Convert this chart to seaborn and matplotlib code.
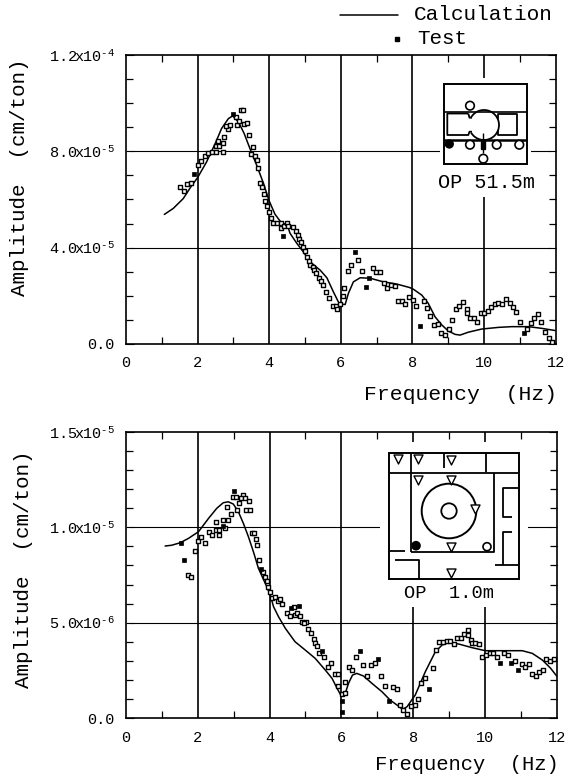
import matplotlib
matplotlib.use('Agg')
import matplotlib.pyplot as plt
from matplotlib.lines import Line2D
from matplotlib.patches import Arc, Circle, Rectangle
from matplotlib.ticker import MultipleLocator
import numpy as np
import seaborn as sns

# Top panel (OP 51.5m), amplitude in 1e-5 cm/ton
top_line_x = [1.07, 1.32, 1.60, 1.80, 2.00, 2.25, 2.49, 2.67, 2.86, 2.98, 3.14, 3.30, 3.46, 3.65, 3.84, 3.99,
              4.16, 4.30, 4.39, 4.49, 4.58, 4.77, 4.95, 5.14, 5.42, 5.61, 5.79, 5.96, 6.12, 6.21, 6.35, 6.54,
              6.82, 7.19, 7.56, 7.93, 8.03, 8.26, 8.44, 8.63, 8.82, 9.00, 9.19, 9.33, 9.56, 9.93, 10.40, 10.77,
              11.24, 11.61, 11.98]
top_line_y = [5.38, 5.63, 6.04, 6.50, 6.91, 7.56, 8.32, 8.95, 9.36, 9.47, 9.22, 8.74, 8.12, 7.42, 6.67, 5.97,
              5.39, 5.11, 4.98, 5.01, 4.60, 4.18, 3.83, 3.41, 3.07, 2.75, 2.17, 1.66, 1.64, 2.10, 2.58, 2.75,
              2.73, 2.58, 2.49, 2.34, 2.27, 2.03, 1.69, 1.13, 0.79, 0.54, 0.40, 0.37, 0.49, 0.62, 0.69, 0.72,
              0.72, 0.65, 0.56]
top_test_x = [1.51, 1.61, 1.71, 1.82, 2.00, 2.09, 2.20, 2.29, 2.39, 2.50, 2.70, 2.50, 2.60, 2.70, 2.56, 2.74,
              2.85, 2.80, 2.91, 3.06, 3.11, 3.16, 3.20, 3.27, 3.30, 3.39, 3.44, 3.54, 3.50, 3.60, 3.65, 3.69,
              3.74, 3.80, 3.84, 3.89, 3.94, 3.99, 4.05, 4.10, 4.21, 4.32, 4.34, 4.41, 4.51, 4.53, 4.65, 4.74,
              4.79, 4.84, 4.90, 4.94, 4.99, 5.06, 5.10, 5.14, 5.21, 5.25, 5.31, 5.40, 5.45, 5.49, 5.59, 5.68,
              5.78, 5.87, 5.89, 5.98, 6.07, 6.09, 6.19, 6.28, 6.49, 6.59, 6.90, 6.99, 7.09, 7.20, 7.30, 7.39,
              7.51, 7.60, 7.70, 7.80, 7.91, 8.01, 8.10, 8.31, 8.40, 8.50, 8.60, 8.71, 8.81, 8.91, 9.01, 9.11,
              9.21, 9.31, 9.41, 9.51, 9.52, 9.61, 9.71, 9.80, 9.91, 10.01, 10.10, 10.20, 10.31, 10.40, 10.50,
              10.61, 10.71, 10.81, 10.90, 11.01, 11.20, 11.30, 11.40, 11.50, 11.59, 11.70, 11.80, 11.89]
top_test_y = [6.50, 6.34, 6.65, 6.67, 7.45, 7.59, 7.82, 7.95, 7.96, 7.96, 7.98, 8.24, 8.24, 8.35, 8.44, 8.60,
              8.91, 9.05, 9.08, 9.43, 9.09, 9.26, 9.72, 9.72, 9.15, 9.18, 8.68, 8.18, 7.91, 7.82, 7.65, 7.30,
              6.68, 6.50, 6.21, 5.95, 5.75, 5.47, 5.23, 5.04, 5.01, 5.01, 4.80, 4.91, 5.04, 4.91, 4.84, 4.68,
              4.51, 4.36, 4.23, 4.04, 3.88, 3.63, 3.46, 3.30, 3.21, 3.07, 2.93, 2.75, 2.60, 2.43, 2.16, 1.90,
              1.59, 1.56, 1.46, 1.67, 2.00, 2.33, 3.03, 3.30, 3.47, 3.04, 3.16, 3.00, 2.97, 2.54, 2.31, 2.46,
              2.40, 1.79, 1.77, 1.67, 1.96, 1.81, 1.57, 1.77, 1.51, 1.15, 0.80, 0.83, 0.44, 0.39, 0.63, 1.00,
              1.44, 1.59, 1.74, 1.44, 1.27, 1.10, 1.10, 0.93, 1.27, 1.30, 1.38, 1.54, 1.65, 1.69, 1.66,
              1.87, 1.69, 1.53, 1.33, 0.90, 0.63, 0.86, 1.06, 1.26, 0.93, 0.49, 0.23, 0.07]
top_filled_x = [1.90, 2.98, 4.39, 6.39, 6.70, 6.80, 8.20, 11.11]
top_filled_y = [7.07, 9.54, 4.47, 3.81, 2.38, 2.74, 0.76, 0.44]

# Bottom panel (OP 1.0m), amplitude in 1e-6 cm/ton
bot_line_x = [1.09, 1.27, 1.51, 1.74, 2.02, 2.30, 2.53, 2.71, 2.85, 2.99, 3.13, 3.27, 3.41, 3.55, 3.69, 3.88,
              4.02, 4.11, 4.25, 4.44, 4.71, 4.99, 5.27, 5.55, 5.74, 5.88, 6.00, 6.11, 6.20, 6.31, 6.43, 6.62,
              6.85, 7.13, 7.36, 7.55, 7.71, 7.83, 8.06, 8.34, 8.62, 8.81, 8.99, 9.27, 9.64, 10.01, 10.57,
              11.04, 11.32, 11.60, 11.83, 12.00]
bot_line_y = [9.02, 9.06, 9.19, 9.42, 9.77, 10.47, 11.00, 11.29, 11.34, 11.22, 10.82, 10.21, 9.51, 8.72, 7.85, 7.06,
              6.45, 5.84, 5.31, 4.70, 4.00, 3.57, 3.13, 2.52, 2.08, 1.56, 1.15, 1.30, 1.82, 2.25, 2.34, 2.20,
              1.82, 1.38, 0.94, 0.68, 0.46, 0.59, 1.21, 2.43, 3.48, 3.83, 3.95, 3.88, 3.69, 3.53, 3.53,
              3.53, 3.39, 3.04, 2.61, 2.20]
bot_test_x = [1.72, 1.81, 1.92, 2.01, 2.10, 2.21, 2.32, 2.41, 2.51, 2.51, 2.60, 2.60, 2.71, 2.75, 2.85, 2.81,
              2.92, 2.97, 3.06, 3.10, 3.16, 3.25, 3.21, 3.32, 3.42, 3.35, 3.46, 3.51, 3.56, 3.61, 3.66, 3.71,
              3.81, 3.86, 3.92, 3.96, 4.02, 4.06, 4.16, 4.23, 4.30, 4.36, 4.48, 4.57, 4.67, 4.71, 4.76, 4.86,
              4.90, 5.01, 4.97, 5.07, 5.16, 5.23, 5.27, 5.32, 5.37, 5.51, 5.62, 5.71, 5.81, 5.91, 5.91, 6.01,
              6.11, 6.11, 6.20, 6.30, 6.41, 6.61, 6.71, 6.83, 6.93, 7.11, 7.22, 7.43, 7.54, 7.63, 7.73, 7.84,
              7.94, 8.04, 8.14, 8.23, 8.32, 8.54, 8.63, 8.73, 8.82, 8.93, 9.03, 9.13, 9.22, 9.34, 9.43, 9.52,
              9.53, 9.62, 9.64, 9.73, 9.83, 9.93, 10.02, 10.13, 10.23, 10.33, 10.52, 10.64, 10.83, 11.03,
              11.13, 11.23, 11.32, 11.42, 11.52, 11.61, 11.71, 11.81, 11.92]
bot_test_y = [7.50, 7.38, 8.77, 9.28, 9.48, 9.18, 9.77, 9.58, 10.26, 9.86, 9.58, 9.86, 10.37, 9.98, 10.37, 11.08,
              10.68, 11.59, 11.59, 10.91, 11.29, 11.68, 11.52, 11.52, 11.40, 10.89, 10.89, 9.70, 9.70, 9.37, 9.09, 8.29,
              7.66, 7.38, 7.18, 6.89, 6.59, 6.28, 6.36, 6.15, 6.22, 5.98, 5.52, 5.35, 5.80, 5.38, 5.49, 5.36,
              5.05, 5.05, 4.96, 4.67, 4.47, 4.16, 3.95, 3.78, 3.39, 3.20, 2.69, 2.90, 2.31, 2.31, 1.69, 1.26,
              1.30, 1.90, 2.69, 2.50, 3.20, 2.80, 2.22, 2.80, 2.90, 2.22, 1.69, 1.61, 1.52, 0.68, 0.42, 0.19,
              0.63, 0.70, 1.01, 1.82, 2.11, 2.60, 3.58, 3.97, 3.97, 4.04, 4.04, 3.88, 4.18, 4.18, 4.39, 4.60,
              4.35, 4.09, 3.95, 3.95, 3.88, 3.22, 3.30, 3.39, 3.39, 3.22, 3.39, 3.30, 3.01, 2.82,
              2.69, 2.82, 2.31, 2.20, 2.40, 2.50, 3.09, 2.99, 3.09]
bot_filled_x = [1.52, 1.62, 2.71, 3.00, 3.77, 4.60, 4.82, 5.46, 6.01, 6.01, 6.51, 7.02, 7.32, 8.43, 10.42, 10.73, 10.93]
bot_filled_y = [9.19, 8.29, 10.07, 11.89, 7.80, 5.79, 5.87, 3.50, 0.91, 0.30, 3.50, 3.09, 0.91, 1.50, 2.90, 2.90, 2.50]

freq_ticks = [0, 2, 4, 6, 8, 10, 12]
top_yticks = [0, 4e-5, 8e-5, 1.2e-4]
top_ylabels = ['0.0', r'4.0\!x\!10^{\text{-5}}', r'8.0\!x\!10^{\text{-5}}', r'1.2\!x\!10^{\text{-4}}']
bot_yticks = [0, 5e-6, 1e-5, 1.5e-5]
bot_ylabels = ['0.0', r'5.0\!x\!10^{\text{-6}}', r'1.0\!x\!10^{\text{-5}}', r'1.5\!x\!10^{\text{-5}}']

sns.set_theme(style='ticks')
plt.rcParams['font.family'] = ['Liberation Mono', 'DejaVu Sans Mono']
plt.rcParams['mathtext.fontset'] = 'custom'
plt.rcParams['mathtext.rm'] = 'Liberation Mono'
plt.rcParams['mathtext.it'] = 'Liberation Mono'
plt.rcParams['mathtext.default'] = 'rm'

W, H = 579, 778
fig = plt.figure(figsize=(W / 100, H / 100), dpi=100)


def panel(left, right, top, bottom, yticks, ylabels, ymax, yminor, unit,
          line_x, line_y, test_x, test_y, filled_x, filled_y, label_x, label_y, xlab_x, xlab_y, xlab_size):
    ax = fig.add_axes([left / W, 1 - bottom / H, (right - left) / W, (bottom - top) / H])
    sns.lineplot(x=line_x, y=np.array(line_y) * unit, color='black', lw=1.1, sort=False,
                 errorbar=None, ax=ax, zorder=2)
    sns.scatterplot(x=test_x, y=np.array(test_y) * unit, marker='s', s=8, facecolor='white',
                    edgecolor='black', linewidth=1.0, ax=ax, zorder=3)
    sns.scatterplot(x=filled_x, y=np.array(filled_y) * unit, marker='s', s=12, color='black',
                    edgecolor='black', linewidth=0.5, ax=ax, zorder=3)
    ax.set_xlim(0, 12)
    ax.set_ylim(0, ymax)
    ax.set_xticks(freq_ticks)
    ax.xaxis.set_minor_locator(MultipleLocator(1))
    ax.set_yticks(yticks)
    ax.set_yticklabels(['$' + t + '$' if 'x' in t else t for t in ylabels])
    ax.yaxis.set_minor_locator(MultipleLocator(yminor))
    ax.tick_params(which='both', direction='in', top=True, right=True, color='black', labelcolor='black')
    ax.tick_params(axis='x', which='major', length=0, pad=9, labelsize=11)
    ax.tick_params(axis='y', which='major', length=6, width=0.8, pad=8, labelsize=11)
    ax.tick_params(axis='both', which='minor', length=5, width=0.9)
    ax.vlines(freq_ticks[1:-1], 0, ymax, color='black', lw=1.2, zorder=1)
    ax.hlines(yticks[1:-1], 0.12, 11.85, color='black', lw=0.8, zorder=1)
    for s in ax.spines.values():
        s.set_linewidth(1.2)
        s.set_color('black')
    ax.set_xlabel('Frequency  (Hz)', fontsize=xlab_size, ha='right', va='center', color='black')
    ax.set_ylabel('Amplitude  (cm/ton)', fontsize=15, va='center', ha='center', color='black')
    ax.xaxis.set_label_coords(xlab_x, xlab_y)
    ax.yaxis.set_label_coords(label_x, label_y)
    return ax


panel(126, 555.7, 55, 344, top_yticks, top_ylabels, 1.2e-4, 1e-5, 1e-5,
      top_line_x, top_line_y, top_test_x, top_test_y, top_filled_x, top_filled_y,
      -0.247, 0.576, 1.003, -0.176, 15.4)
panel(126, 556.7, 432, 718, bot_yticks, bot_ylabels, 1.5e-5, 1e-6, 1e-6,
      bot_line_x, bot_line_y, bot_test_x, bot_test_y, bot_filled_x, bot_filled_y,
      -0.238, 0.52, 1.005, -0.164, 14.8)

# overlay in image pixels for the legend and the two building sketches
ov = fig.add_axes([0, 0, 1, 1], facecolor='none')
ov.set_xlim(0, W)
ov.set_ylim(H, 0)
ov.axis('off')


def poly(pts, lw=1.3):
    ov.plot([p[0] for p in pts], [p[1] for p in pts], color='black', lw=lw, solid_capstyle='butt')


def ring(x, y, r, filled=False, lw=1.2):
    ov.add_patch(Circle((x, y), r, fc='black' if filled else 'white', ec='black', lw=lw, zorder=4))


# legend
ov.add_line(Line2D([340, 398], [15, 15], color='black', lw=1.1))
ov.text(414, 14, 'Calculation', fontsize=15.2, va='center', color='black')
ov.plot([397], [39], marker='s', ms=3.2, color='black')
ov.text(417, 38, 'Test', fontsize=15, va='center', color='black')

# OP 51.5m sketch
ov.add_patch(Rectangle((440, 78), 91, 119, fc='white', ec='none'))
ov.add_patch(Rectangle((444, 84), 83, 80, fc='white', ec='black', lw=1.4))
poly([(444, 112), (527, 112)], 1.2)
poly([(444, 139.5), (527, 139.5)], 1.8)
poly([(468.3, 113.5), (447.3, 113.5), (447.3, 135), (468.3, 135), (469.5, 131.7), (472, 131.7)])
poly([(472, 117.7), (469.5, 117.7), (468.3, 113.5)])
ov.add_patch(Arc((484, 125), 30, 30, theta1=-150, theta2=150, color='black', lw=1.3))
poly([(498.3, 119), (498.3, 113.5), (516.7, 113.5), (516.7, 135), (498.3, 135), (498.3, 130)])
ring(470, 105.7, 4.3)
ring(470, 144.7, 4.3)
ring(496.7, 144.7, 4.3)
ring(519.3, 144.7, 4.3)
ring(483.3, 158.7, 4.3)
ring(449.3, 144, 3.8, filled=True)
poly([(483, 133), (483, 153)], 1.0)
ov.add_patch(Rectangle((481, 140.5), 3.6, 8, fc='black', ec='black', zorder=5))
ov.text(486, 182, 'OP 51.5m', fontsize=14.5, ha='center', va='center', color='black')

# OP 1.0m sketch
ov.add_patch(Rectangle((380, 442), 148, 165, fc='white', ec='none'))
ov.add_patch(Rectangle((389.3, 452.7), 129.7, 126.3, fc='white', ec='black', lw=1.4))
poly([(389.3, 473.3), (519, 473.3)])
poly([(411, 452.7), (411, 551.5)])
poly([(444, 452.7), (444, 468)])
poly([(486, 452.7), (486, 472)])
poly([(411, 551.5), (494, 551.5), (494, 473.3)])
poly([(389.3, 550.7), (405, 550.7)])
poly([(395, 560), (419.3, 560), (419.3, 579)])
poly([(518, 488.3), (502.7, 488.3), (502.7, 517.3), (512.3, 517.3)])
poly([(512.3, 532.3), (502.7, 532.3), (502.7, 565), (518, 565)])
poly([(495, 565), (503, 565)])
ring(449, 511, 27.3, lw=1.4)
ring(449, 511, 7.7, lw=1.3)
ring(416, 545.7, 4, filled=True)
ring(487, 546.7, 4)
tri_x = [397.7, 418, 450.7, 418, 450.7, 475.3, 450.7, 450.7]
tri_y = [459, 459, 460, 480, 480, 509.3, 546.7, 573.3]
ov.scatter(tri_x, tri_y, marker='v', s=42, facecolor='white', edgecolor='black', linewidth=1.0, zorder=5)
ov.text(449.5, 594, 'OP  1.0m', fontsize=13.5, ha='center', va='center', color='black')

fig.savefig('out.png', dpi=100)
